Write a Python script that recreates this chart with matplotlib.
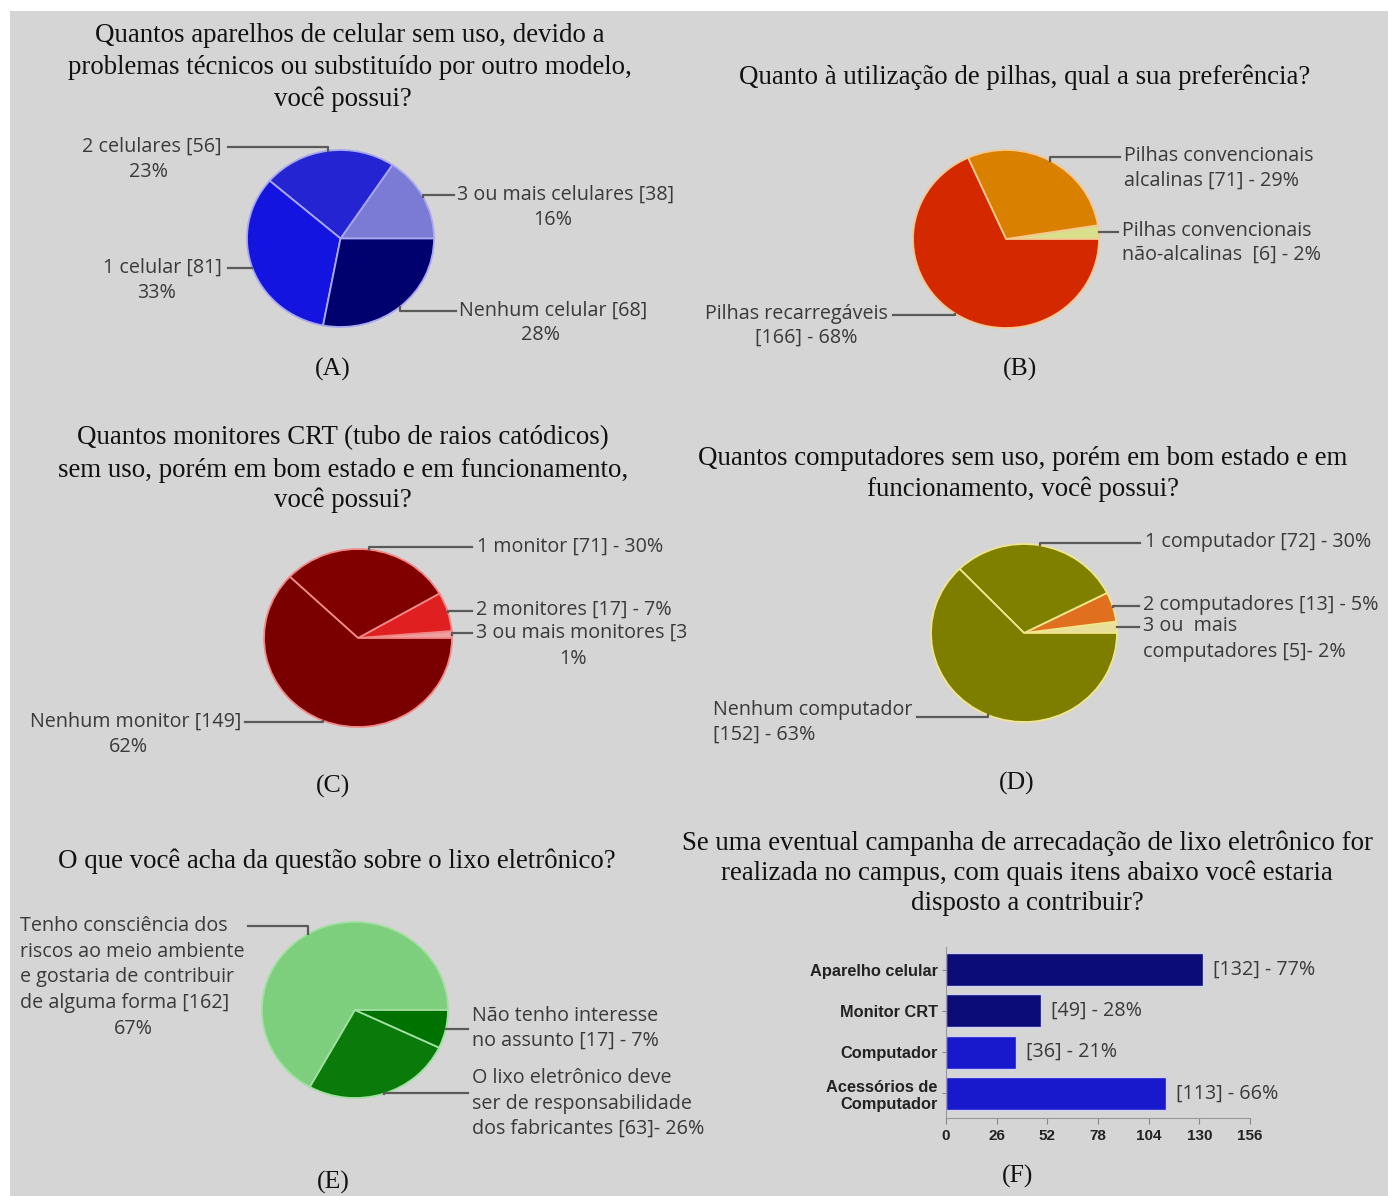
import numpy as np
import matplotlib
matplotlib.use("Agg")
import matplotlib.pyplot as plt
from matplotlib.lines import Line2D
from matplotlib.patches import Rectangle

W, H = 1388, 1196

# --- dados ---
A_vals = [38, 56, 81, 68]          # 3 ou mais, 2, 1, nenhum
A_colors = ['#7b7bd6', '#2424d2', '#1414e0', '#00006e']

B_vals = [6, 71, 166]              # nao-alcalinas, alcalinas, recarregaveis
B_colors = ['#d8e08c', '#d98000', '#d42800']

C_vals = [3, 17, 71, 149]          # 3 ou mais, 2, 1, nenhum
C_colors = ['#f0a0a0', '#e02020', '#800000', '#7a0000']

D_vals = [5, 13, 72, 152]
D_colors = ['#e8e098', '#e07020', '#808000', '#7d7d00']

E_vals = [162, 63, 17]             # tenho consciencia, fabricantes, sem interesse
E_colors = ['#7dcf7d', '#0a7a0a', '#007200']

F_cats = ['Aparelho celular', 'Monitor CRT', 'Computador', 'Acessórios de\nComputador']
F_vals = [132, 49, 36, 113]
F_pct = [77, 28, 21, 66]
F_colors = ['#0c0c78', '#0c0c78', '#1818cc', '#1818cc']
F_ticks = [0, 26, 52, 78, 104, 130, 156]

SERIF = 'Liberation Serif'
SANS = 'Open Sans'
LBL = '#3a3a3a'
LSIZE = 14.2

fig = plt.figure(figsize=(W / 100, H / 100), dpi=100, facecolor='white')
fig.add_artist(Rectangle((10 / W, 0), 1 - 10 / W, 1 - 11 / H, transform=fig.transFigure,
                         facecolor='#d5d5d5', edgecolor='none', zorder=-10))


def fx(x):
    return x / W


def fy(y):
    return 1 - y / H


def txt(s, x, y, ha='left', size=LSIZE, family=SANS, color=LBL):
    fig.text(fx(x), fy(y), s, ha=ha, va='center', fontsize=size, family=family, color=color)


def pie(cx, cy, rx, ry, vals, colors, edge):
    ax = fig.add_axes([fx(cx - rx), fy(cy + ry), 2 * rx / W, 2 * ry / H])
    wedges, _ = ax.pie(vals, colors=colors, startangle=0, counterclock=True,
                       wedgeprops=dict(edgecolor=edge, linewidth=1.3))
    for w in wedges:
        w.set_clip_on(False)
    ax.set_aspect('auto')
    ax.set_xlim(-1, 1)
    ax.set_ylim(-1, 1)
    ax.axis('off')
    return ax, wedges


def leader(ax, wedge, lx, ly):
    ang = np.deg2rad((wedge.theta1 + wedge.theta2) / 2)
    ex, ey = ax.transData.transform((np.cos(ang), np.sin(ang)))
    fig.add_artist(Line2D([ex / W, ex / W, fx(lx)], [ey / H, fy(ly), fy(ly)],
                          transform=fig.transFigure, color='#5a5a5a', lw=1.6))


def label(ax, wedge, lx, ly, lines):
    leader(ax, wedge, lx, ly)
    for s, x, y, ha in lines:
        txt(s, x, y, ha)


# titulos
for s, x, y in [("Quantos aparelhos de celular sem uso, devido a", 350, 35),
                 ("problemas técnicos ou substituído por outro modelo,", 350, 67),
                 ("você possui?", 343, 99),
                 ("Quanto à utilização de pilhas, qual a sua preferência?", 1025, 77),
                 ("Quantos monitores CRT (tubo de raios catódicos)", 343, 438),
                 ("sem uso, porém em bom estado e em funcionamento,", 343, 470),
                 ("você possui?", 343, 500),
                 ("Quantos computadores sem uso, porém em bom estado e em", 1023, 458),
                 ("funcionamento, você possui?", 1023, 489),
                 ("O que você acha da questão sobre o lixo eletrônico?", 337, 861),
                 ("Se uma eventual campanha de arrecadação de lixo eletrônico for", 1027, 843),
                 ("realizada no campus, com quais itens abaixo você estaria", 1027, 873),
                 ("disposto a contribuir?", 1027, 903)]:
    txt(s, x, y, 'center', size=19.4, family=SERIF, color='#111111')

for s, x, y in [("(A)", 333, 369), ("(B)", 1020, 369), ("(C)", 333, 786),
                ("(D)", 1017, 783), ("(E)", 333, 1182), ("(F)", 1018, 1176)]:
    txt(s, x, y, 'center', size=18.5, family=SERIF, color='#111111')

# (A)
ax, w = pie(340.5, 238.5, 93.5, 88.5, A_vals, A_colors, '#a8a8f0')
label(ax, w[1], 228, 147, [("2 celulares [56]", 222, 147, 'right'), ("23%", 148, 172, 'center')])
label(ax, w[2], 228, 268, [("1 celular [81]", 222, 268, 'right'), ("33%", 157, 293, 'center')])
label(ax, w[0], 454, 195, [("3 ou mais celulares [38]", 457, 195, 'left'), ("16%", 553, 220, 'center')])
label(ax, w[3], 456, 311, [("Nenhum celular [68]", 459, 311, 'left'), ("28%", 541, 335, 'center')])

# (B)
ax, w = pie(1006, 239, 93, 89, B_vals, B_colors, '#f5c890')
label(ax, w[1], 1120, 157, [("Pilhas convencionais", 1124, 156, 'left'),
                            ("alcalinas [71] - 29%", 1124, 181, 'left')])
label(ax, w[0], 1118, 232, [("Pilhas convencionais", 1122, 231, 'left'),
                            ("não-alcalinas  [6] - 2%", 1122, 255, 'left')])
label(ax, w[2], 893, 315, [("Pilhas recarregáveis", 888, 314, 'right'),
                           ("[166] - 68%", 806, 338, 'center')])

# (C)
ax, w = pie(358, 638, 94, 89, C_vals, C_colors, '#f08888')
label(ax, w[2], 472, 547, [("1 monitor [71] - 30%", 477, 547, 'left')])
label(ax, w[1], 472, 611, [("2 monitores [17] - 7%", 476, 610, 'left')])
label(ax, w[0], 472, 633, [("3 ou mais monitores [3", 476, 633, 'left'), ("1%", 573, 659, 'center')])
label(ax, w[3], 245, 722, [("Nenhum monitor [149]", 241, 722, 'right'), ("62%", 128, 747, 'center')])

# (D)
ax, w = pie(1024, 633, 93, 89, D_vals, D_colors, '#f0e68c')
label(ax, w[2], 1140, 543, [("1 computador [72] - 30%", 1145, 542, 'left')])
label(ax, w[1], 1139, 606, [("2 computadores [13] - 5%", 1143, 605, 'left')])
label(ax, w[0], 1139, 627, [("3 ou  mais", 1143, 626, 'left'), ("computadores [5]- 2%", 1143, 652, 'left')])
label(ax, w[3], 917, 717, [("Nenhum computador", 713, 710, 'left'), ("[152] - 63%", 713, 735, 'left')])

# (E)
ax, w = pie(355, 1010, 93, 88, E_vals, E_colors, '#a0e0a0')
label(ax, w[0], 248, 926, [("Tenho consciência dos", 20, 926, 'left'),
                           ("riscos ao meio ambiente", 20, 952, 'left'),
                           ("e gostaria de contribuir", 20, 977, 'left'),
                           ("de alguma forma [162]", 20, 1003, 'left'),
                           ("67%", 133, 1029, 'center')])
label(ax, w[2], 468, 1029, [("Não tenho interesse", 472, 1016, 'left'),
                            ("no assunto [17] - 7%", 472, 1041, 'left')])
label(ax, w[1], 468, 1093, [("O lixo eletrônico deve", 472, 1078, 'left'),
                            ("ser de responsabilidade", 472, 1104, 'left'),
                            ("dos fabricantes [63]- 26%", 472, 1129, 'left')])

# (F) barras
axf = fig.add_axes([fx(946), fy(1118), 304 / W, 171 / H])
axf.set_facecolor('none')
ypos = np.arange(len(F_vals))
bars = axf.barh(ypos, F_vals, height=0.8, color=F_colors, edgecolor='#d0d0f4', linewidth=1)
axf.set_xlim(0, 156)
axf.set_ylim(3.6, -0.55)
axf.set_xticks(F_ticks)
axf.set_yticks(ypos)
axf.set_yticklabels(F_cats, fontsize=11.8, family='Liberation Sans', fontweight='bold',
                    color='#222222', linespacing=1.2)
for t in axf.get_xticklabels():
    t.set_fontsize(11)
    t.set_family('Liberation Sans')
    t.set_fontweight('bold')
    t.set_color('#222222')
axf.tick_params(axis='x', length=4, color='#888888', pad=4)
axf.tick_params(axis='y', length=3, color='#888888', pad=3)
for sp in ['top', 'right']:
    axf.spines[sp].set_visible(False)
for sp in ['left', 'bottom']:
    axf.spines[sp].set_color('#999999')
for b, v, p in zip(bars, F_vals, F_pct):
    axf.annotate(f"[{v}] - {p}%", (v, b.get_y() + b.get_height() / 2), xytext=(7, 0),
                 textcoords='offset points', va='center', ha='left', fontsize=LSIZE,
                 family=SANS, color=LBL)

fig.savefig('out.png', dpi=100, facecolor='white')
